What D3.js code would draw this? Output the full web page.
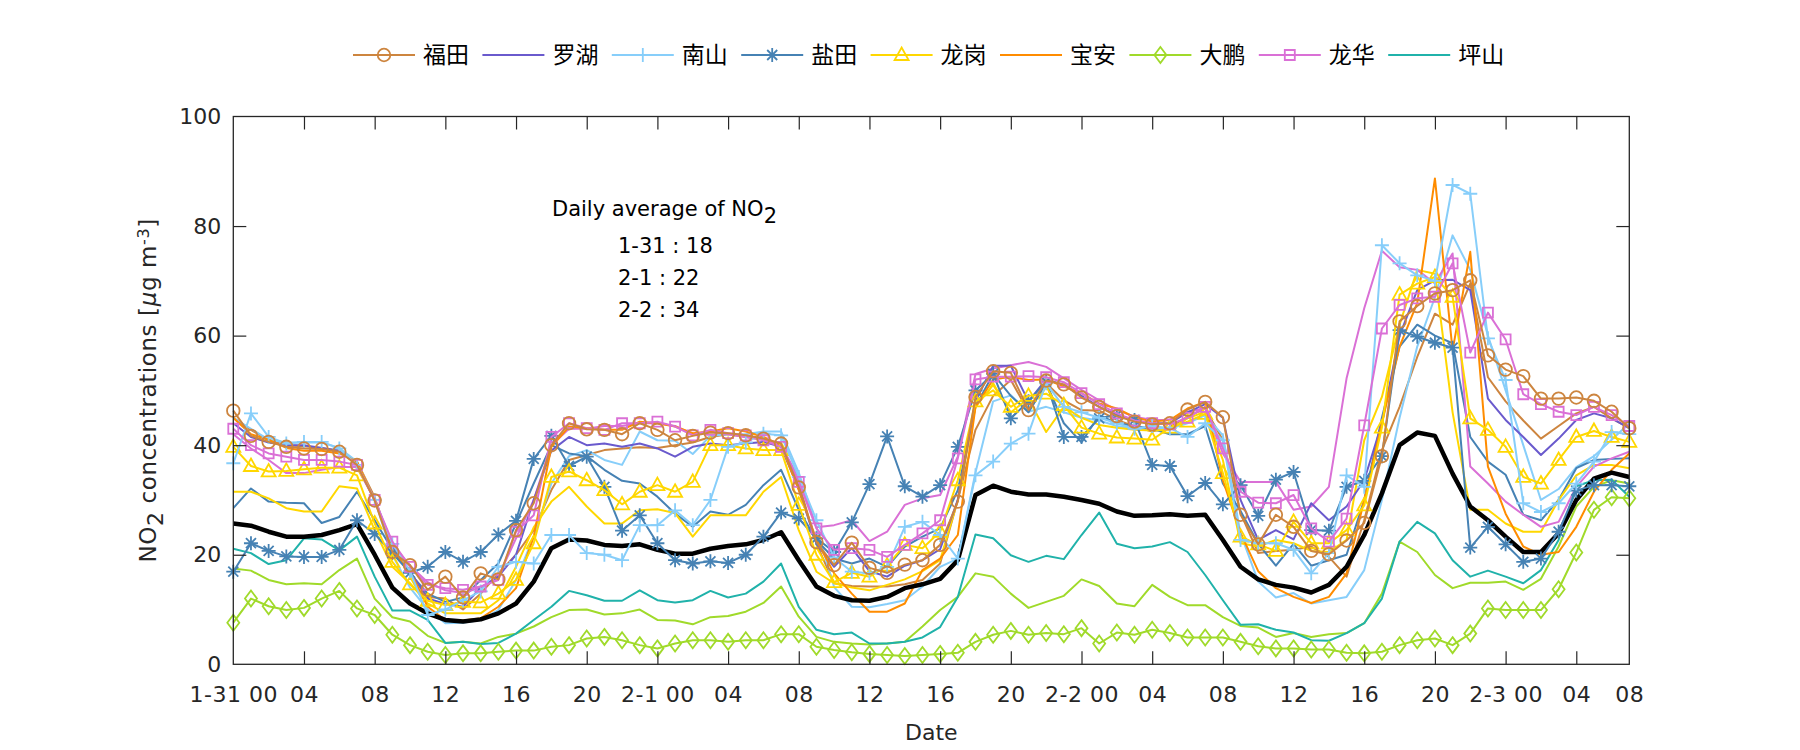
<!DOCTYPE html>
<html>
<head>
<meta charset="utf-8">
<script src="https://cdn.jsdelivr.net/npm/d3@7"></script>
<style>
  html, body { margin: 0; padding: 0; background: #ffffff; }
  svg { display: block; }
</style>
</head>
<body>
<svg id="chart" width="1800" height="750"></svg>
<script>
// ---------------- DATA (hourly, 1-31 00:00 ... 2-3 07:00) ----------------
const hourIndex = d3.range(0, 80);

const tickHours  = [0, 4, 8, 12, 16, 20, 24, 28, 32, 36, 40, 44, 48, 52, 56, 60, 64, 68, 72, 76, 79];
const tickLabels = ["1-31 00", "04", "08", "12", "16", "20", "2-1 00", "04", "08", "12", "16", "20",
                    "2-2 00", "04", "08", "12", "16", "20", "2-3 00", "04", "08"];
const yTicks = [0, 20, 40, 60, 80, 100];

const districts = ["福田", "罗湖", "南山", "盐田", "龙岗", "宝安", "大鹏", "龙华", "坪山"];

const futian = [46.3,41.7,40.6,39.7,39.4,39.3,38.8,36.4, 29.9,20.5,18.1,13.6,16.0,12.2,16.6,15.5,
  24.5,29.4,40.0,44.0,42.9,42.8,42.0,44.0, 42.8,40.9,41.7,42.3,42.2,41.8,41.2,40.3,
  32.3,22.3,18.1,22.2,17.6,16.7,18.2,19.0, 21.8,29.7,48.8,53.5,53.2,46.4,51.8,51.1,
  48.7,47.0,45.3,44.3,43.8,44.0,46.5,47.9, 45.1,27.3,21.9,27.3,25.1,20.7,20.1,22.6,
  25.8,38.0,62.6,65.4,67.7,68.3,70.1,56.4, 53.8,52.6,48.5,48.5,48.7,48.1,46.1,43.1];
const futian2 = [45.0,42.8,40.9,40.0,39.8,39.5,39.0,37.0, 30.5,21.0,16.5,12.3,12.0,10.0,12.9,16.6,
  20.0,24.5,31.8,37.3,38.2,39.1,39.4,39.6, 39.5,40.0,40.5,41.5,42.0,41.5,41.0,40.0,
  33.0,22.0,14.8,14.3,14.2,14.2,14.6,15.4, 18.4,30.0,42.8,49.0,51.9,46.1,51.3,48.2,
  46.4,46.3,44.6,43.4,42.5,43.3,45.2,46.7, 40.9,27.6,20.3,20.7,20.9,21.5,19.6,16.0,
  26.3,39.1,47.0,56.1,64.0,62.0,69.5,52.4, 48.0,44.5,41.2,43.5,45.8,47.0,44.9,43.1];
const luohu = [44.0,41.5,40.5,40.0,40.0,39.5,39.0,36.5, 30.0,21.5,17.0,12.0,11.0,10.5,14.0,16.0,
  20.0,30.0,39.0,41.5,40.0,40.3,39.7,40.3, 39.4,37.9,39.7,40.3,40.0,40.3,40.6,39.7,
  32.0,22.0,17.8,21.2,17.0,16.0,18.0,19.0, 21.0,30.0,48.0,54.5,54.5,48.0,52.0,51.0,
  49.0,47.0,45.5,44.5,44.0,44.0,46.0,47.5, 45.0,30.0,22.7,24.5,22.8,29.4,26.3,28.8,
  33.6,44.0,60.0,68.3,70.1,70.2,68.3,48.5, 44.6,41.5,38.2,41.2,44.6,45.8,44.9,43.1];
const nanshan = [36.7,45.8,41.5,40.3,40.6,40.6,39.4,36.4, 30.0,22.0,17.0,9.0,10.0,11.7,13.3,17.8,
  18.7,18.4,23.6,23.6,20.3,20.0,19.0,25.4, 25.4,28.1,25.4,30.0,39.7,40.5,42.1,41.8,
  34.2,26.3,19.5,16.9,16.6,17.8,25.1,26.0, 23.6,19.3,34.5,37.0,40.3,42.1,51.3,47.0,
  46.0,45.0,44.0,43.0,43.5,43.1,41.5,44.0, 40.9,22.7,22.1,22.1,20.9,16.6,20.3,34.5,
  32.4,76.5,73.2,71.0,70.0,87.5,85.9,59.5, 51.9,29.4,27.8,29.4,33.0,37.0,42.4,42.0];
const nanshan2 = [45.0,43.0,41.0,40.5,40.5,40.5,39.5,37.0, 30.0,20.0,14.0,10.0,7.5,7.6,8.1,9.9,
  15.4,23.3,33.0,38.0,39.1,37.3,36.4,42.5, 40.9,40.8,38.4,41.7,42.0,42.0,42.5,42.5,
  35.0,25.0,14.1,10.5,10.4,11.0,11.7,14.2, 17.8,19.3,35.0,48.0,49.1,46.1,47.0,46.0,
  45.0,44.5,43.5,43.0,43.0,43.0,44.0,45.5, 41.8,23.9,15.1,12.2,13.0,11.1,11.7,12.3,
  17.2,30.0,45.0,58.0,67.0,78.3,72.0,60.0, 50.0,40.0,30.0,32.0,36.0,38.0,41.0,44.0];
const yantian = [16.9,22.1,20.7,19.7,19.6,19.6,20.9,26.3, 23.8,20.3,16.7,17.8,20.5,18.7,20.5,23.7,
  26.2,37.5,41.7,36.2,37.9,32.4,24.4,27.2, 22.1,19.0,18.4,18.8,18.5,20.0,23.3,27.7,
  26.6,23.0,20.5,25.9,32.9,41.6,32.5,30.6, 32.7,39.7,50.0,53.0,44.9,48.0,51.6,41.5,
  41.5,44.9,45.5,44.6,36.4,36.2,30.7,33.1, 29.2,32.7,27.1,33.7,35.1,24.5,24.4,32.4,
  33.5,38.0,61.0,59.8,58.7,57.8,21.3,25.1, 21.9,18.7,19.3,24.2,31.7,32.7,32.7,32.5];
const yantian2 = [28.5,32.1,29.7,29.5,29.4,25.8,26.9,31.5, 26.3,20.9,16.6,12.9,11.4,12.2,15.4,18.4,
  25.7,33.0,40.0,38.5,38.0,35.5,33.5,33.0, 30.6,27.5,25.1,27.9,27.3,29.1,32.7,35.5,
  28.2,22.7,19.3,18.4,19.3,17.8,21.5,23.3, 24.8,31.8,47.0,53.0,49.0,46.0,51.3,44.0,
  40.5,45.5,44.0,43.5,43.0,42.0,42.0,43.5, 33.0,28.0,22.0,18.0,22.0,18.0,19.0,20.0,
  30.0,45.0,58.0,62.0,60.0,58.6,41.5,37.0, 34.6,27.3,26.3,30.0,35.8,37.3,37.5,37.6];
const longgang = [39.7,36.2,35.2,35.3,35.6,35.9,35.9,34.5, 25.7,18.7,14.6,11.6,10.8,11.4,11.3,12.9,
  15.4,22.1,34.2,35.2,33.6,31.8,29.2,31.5, 32.7,31.5,33.3,40.0,40.0,39.4,39.1,39.1,
  29.1,20.0,15.0,16.7,16.0,18.0,21.8,21.2, 24.2,33.6,48.0,50.0,47.0,49.0,49.4,47.3,
  43.2,42.1,41.4,41.2,41.0,43.2,44.3,45.7, 34.9,23.3,21.9,20.7,26.0,22.1,22.1,24.5,
  29.0,43.2,67.5,69.5,70.7,67.1,44.9,42.8, 39.7,34.2,33.0,37.3,41.5,42.6,41.5,40.6];
const longgang2 = [31.5,31.5,30.3,28.5,27.9,27.9,32.5,32.1, 24.5,17.8,14.8,11.1,9.3,9.3,9.3,11.7,
  17.8,25.0,29.7,32.4,28.8,25.7,25.7,28.1, 28.3,27.6,23.3,27.2,27.2,27.2,31.5,34.2,
  24.5,16.9,14.8,14.0,13.5,14.5,15.5,17.0, 19.0,30.0,47.0,51.0,46.0,48.5,42.4,47.0,
  45.0,43.7,43.2,42.8,42.7,42.8,44.9,46.1, 37.3,22.1,21.5,22.7,22.1,20.7,20.5,22.7,
  40.9,48.8,62.0,72.0,71.3,46.0,28.2,28.2, 25.7,24.2,24.2,30.0,34.5,36.4,36.4,35.8];
const baoan = [45.0,42.0,41.0,39.5,39.0,39.0,38.5,37.0, 30.0,21.0,17.0,10.5,8.1,8.0,8.4,10.5,
  13.9,23.3,39.7,43.4,43.1,42.8,42.8,44.3, 44.0,43.4,42.2,42.5,43.1,42.5,41.5,40.0,
  31.8,22.7,16.6,12.9,9.6,9.6,11.1,17.2, 19.3,23.6,47.0,52.0,52.5,51.9,52.0,50.7,
  49.5,47.6,46.7,45.1,44.3,44.6,46.7,47.9, 33.6,24.0,17.0,13.9,12.3,11.2,12.3,16.6,
  30.0,44.0,58.0,66.0,88.7,57.3,75.3,36.1, 27.5,21.5,20.0,20.5,25.1,31.5,35.5,38.5];
const dapeng = [7.6,12.0,10.6,9.9,10.3,12.0,13.4,10.2, 9.0,5.4,3.5,2.3,1.7,2.0,2.0,2.3,
  2.5,2.5,3.2,3.5,4.7,5.0,4.4,3.5, 2.9,3.8,4.4,4.4,4.1,4.4,4.4,5.5,
  5.5,3.2,2.6,2.2,1.9,1.7,1.5,1.7, 1.9,2.1,4.1,5.4,6.1,5.4,5.7,5.5,
  6.6,3.8,5.8,5.4,6.3,5.7,4.9,4.9, 4.9,4.1,3.3,2.9,2.9,2.7,2.7,2.1,
  2.0,2.3,3.5,4.4,4.7,3.5,5.6,10.2, 9.9,9.9,9.9,13.7,20.4,28.2,30.5,30.3];
const dapeng2 = [17.5,17.1,15.4,14.6,14.8,14.6,17.2,19.3, 12.0,8.6,7.8,5.2,3.9,4.1,3.8,5.0,
  5.6,6.9,8.6,9.9,10.0,9.1,9.3,10.0, 8.1,8.0,7.3,8.6,8.8,9.6,11.2,14.2,
  8.7,5.0,4.1,3.8,3.6,3.8,4.1,6.9, 9.9,12.3,16.6,16.0,12.9,10.3,11.4,12.5,
  15.5,14.3,11.1,10.6,14.5,12.3,10.8,10.8, 8.6,7.0,6.7,5.0,5.7,5.0,5.5,5.7,
  7.5,12.9,22.4,20.5,16.3,13.9,14.9,14.9, 15.1,13.6,15.6,21.5,28.8,32.4,33.6,33.0];
const longhua = [43.0,40.0,38.5,37.9,37.3,37.3,37.0,36.4, 30.0,22.4,17.8,14.5,13.9,13.6,14.2,15.4,
  24.2,27.2,41.5,44.0,43.1,42.8,44.0,44.0, 44.3,43.4,41.8,42.8,42.2,41.8,40.9,39.7,
  33.3,24.8,20.9,21.2,20.9,19.6,21.8,23.9, 26.3,37.6,52.0,52.5,52.5,52.6,52.4,51.5,
  49.5,47.5,45.8,44.5,44.0,43.8,45.0,47.0, 39.4,31.5,29.5,29.4,30.9,24.8,22.4,26.6,
  43.6,61.3,65.6,66.8,67.1,73.2,56.9,64.2, 59.3,49.3,47.5,46.1,45.5,47.0,45.5,43.5];
const longhua2 = [42.0,39.4,37.3,34.9,34.9,35.5,36.0,36.0, 30.0,22.0,18.0,15.0,13.5,13.0,14.0,16.0,
  23.0,30.0,40.0,43.0,43.0,43.5,43.5,44.0, 44.0,43.5,42.0,42.5,42.0,41.5,41.0,40.0,
  34.0,25.0,25.4,26.3,22.5,24.2,29.1,30.3, 30.9,37.9,53.0,54.0,54.6,55.2,54.3,52.2,
  50.1,48.2,46.4,45.2,44.6,44.6,46.1,46.7, 38.5,33.3,33.3,33.3,28.2,28.8,32.4,52.2,
  65.0,75.5,72.5,72.0,69.5,75.0,36.1,33.0, 29.7,27.3,25.1,26.0,32.4,36.1,37.6,38.8];
const pingshan = [21.1,20.3,18.3,19.0,23.0,22.8,20.8,23.3, 16.0,9.8,9.8,8.1,3.9,4.1,3.7,3.9,
  5.6,8.1,10.5,13.4,12.6,11.6,11.6,13.5, 11.7,11.3,11.7,13.4,12.2,12.9,15.1,18.4,
  10.5,6.3,5.5,5.8,3.8,3.8,4.1,4.9, 6.8,12.3,23.7,23.0,19.9,18.7,19.8,19.2,
  23.6,27.7,22.0,21.2,21.5,22.3,20.5,16.3, 11.7,7.2,7.3,6.3,5.8,4.4,4.3,5.7,
  7.5,12.0,22.4,26.0,23.9,19.0,16.0,17.1, 16.0,14.8,17.2,22.7,32.5,33.6,33.7,30.6];
const average = [25.7,25.3,24.2,23.3,23.3,23.6,24.5,25.6, 20.0,14.0,11.1,9.3,8.1,7.8,8.2,9.3,
  11.1,15.1,21.2,22.8,22.6,21.8,21.6,21.9, 20.9,20.2,20.2,21.1,21.6,21.9,22.7,24.1,
  19.0,14.2,12.5,11.7,11.6,12.3,13.9,14.6, 15.6,19.0,30.9,32.6,31.5,31.0,31.0,30.6,
  30.0,29.3,27.9,27.1,27.2,27.4,27.1,27.3, 22.7,17.8,15.5,14.5,14.0,13.1,14.5,17.8,
  23.6,31.2,40.0,42.3,41.7,34.8,28.8,26.3, 23.3,20.5,20.5,23.9,30.0,33.9,35.0,34.2];

const annotationLines = ["1-31 : 18", "2-1 : 22", "2-2 : 34"];

// ---------------- STYLE TABLE ----------------
const colors = {
  "福田": "#CD853F", "罗湖": "#6A5ACD", "南山": "#87CEFA", "盐田": "#4682B4", "龙岗": "#FFD700",
  "宝安": "#FF8C00", "大鹏": "#A0DA2A", "龙华": "#DA70D6", "坪山": "#20B2AA"
};
const markerOf = {
  "福田": "circle", "罗湖": null, "南山": "plus", "盐田": "asterisk", "龙岗": "triangle",
  "宝安": null, "大鹏": "diamond", "龙华": "square", "坪山": null
};

const backgroundLines = [
  {name: "福田", values: futian2}, {name: "南山", values: nanshan2}, {name: "盐田", values: yantian2},
  {name: "龙岗", values: longgang2}, {name: "大鹏", values: dapeng2}, {name: "龙华", values: longhua2},
  {name: "坪山", values: pingshan}, {name: "罗湖", values: luohu}, {name: "宝安", values: baoan}
];
const markedLines = [
  {name: "大鹏", values: dapeng}, {name: "盐田", values: yantian}, {name: "龙岗", values: longgang},
  {name: "南山", values: nanshan}, {name: "龙华", values: longhua}, {name: "福田", values: futian}
];

// ---------------- LAYOUT ----------------
const svg = d3.select("#chart");
const X0 = 233.3, X1 = 1629.3, Y0 = 664.3, Y1 = 116.5;
const x = d3.scaleLinear().domain([0, 79]).range([X0, X1]);
const y = d3.scaleLinear().domain([0, 100]).range([Y0, Y1]);
const axisColor = "#262626";
const fontMain = "'DejaVu Sans', 'Liberation Sans', sans-serif";
const fontCJK = "'Noto Sans CJK SC', 'Noto Sans CJK JP', sans-serif";

function markerPath(type) {
  switch (type) {
    case "circle": return "M6.3,0 A6.3,6.3 0 1,1 -6.3,0 A6.3,6.3 0 1,1 6.3,0 Z";
    case "plus": return "M-7,0 L7,0 M0,-7 L0,7";
    case "asterisk": return "M-7,0 L7,0 M0,-7 L0,7 M-5,-5 L5,5 M-5,5 L5,-5";
    case "triangle": return "M0,-7.5 L7,5 L-7,5 Z";
    case "diamond": return "M0,-8 L6,0 L0,8 L-6,0 Z";
    case "square": return "M-5,-5 L5,-5 L5,5 L-5,5 Z";
  }
  return "";
}

const plot = svg.append("g");
const clipId = "plotclip";
svg.append("defs").append("clipPath").attr("id", clipId)
  .append("rect").attr("x", X0).attr("y", Y1 - 20).attr("width", X1 - X0).attr("height", Y0 - Y1 + 20);

const line = d3.line().x((d, i) => x(hourIndex[i])).y(d => y(d));
const linesG = plot.append("g").attr("clip-path", `url(#${clipId})`);

backgroundLines.forEach(s => {
  linesG.append("path").datum(s.values)
    .attr("d", line).attr("fill", "none")
    .attr("stroke", colors[s.name]).attr("stroke-width", 2)
    .attr("stroke-linejoin", "round");
});

linesG.append("path").datum(average)
  .attr("d", line).attr("fill", "none")
  .attr("stroke", "#000").attr("stroke-width", 4.5).attr("stroke-linejoin", "round");

markedLines.forEach(s => {
  const g = plot.append("g");
  g.append("path").datum(s.values)
    .attr("d", line).attr("fill", "none")
    .attr("stroke", colors[s.name]).attr("stroke-width", 2)
    .attr("stroke-linejoin", "round");
  g.selectAll("path.mk").data(s.values).enter().append("path")
    .attr("class", "mk")
    .attr("d", markerPath(markerOf[s.name]))
    .attr("transform", (d, i) => `translate(${x(hourIndex[i])},${y(d)})`)
    .attr("fill", "none").attr("stroke", colors[s.name]).attr("stroke-width", 1.8);
});

// ---------------- AXES (box with inward ticks) ----------------
const axesG = svg.append("g");
axesG.append("rect").attr("x", X0).attr("y", Y1).attr("width", X1 - X0).attr("height", Y0 - Y1)
  .attr("fill", "none").attr("stroke", axisColor).attr("stroke-width", 1.3);

const tickLen = 13;
const xAxisB = d3.axisBottom(x).tickValues(tickHours).tickSize(-tickLen).tickPadding(22)
  .tickFormat((d, i) => tickLabels[i]);
const gxb = axesG.append("g").attr("transform", `translate(0,${Y0})`).call(xAxisB);
const xAxisT = d3.axisTop(x).tickValues(tickHours.filter(h => h < 79)).tickSize(-tickLen).tickFormat("");
const gxt = axesG.append("g").attr("transform", `translate(0,${Y1})`).call(xAxisT);
gxb.selectAll("line").filter(d => d === 79 || d === 0).remove();
gxt.selectAll("line").filter(d => d === 0).remove();

const yAxisL = d3.axisLeft(y).tickValues(yTicks).tickSize(-tickLen).tickPadding(12).tickFormat(d3.format("d"));
const gyl = axesG.append("g").attr("transform", `translate(${X0},0)`).call(yAxisL);
const yAxisR = d3.axisRight(y).tickValues(yTicks).tickSize(-tickLen).tickFormat("");
const gyr = axesG.append("g").attr("transform", `translate(${X1},0)`).call(yAxisR);
[gyl, gyr].forEach(g => g.selectAll("line").filter(d => d === 0 || d === 100).remove());

[gxb, gxt, gyl, gyr].forEach(g => {
  g.select(".domain").remove();
  g.selectAll("line").attr("stroke", axisColor).attr("stroke-width", 1.2);
  g.selectAll("text").attr("fill", axisColor).style("font-family", fontMain).style("font-size", "22px");
});
gxb.selectAll("text").attr("letter-spacing", "0.5px");

// axis titles
svg.append("text").attr("x", (X0 + X1) / 2).attr("y", 740)
  .attr("text-anchor", "middle").attr("fill", axisColor)
  .style("font-family", fontMain).style("font-size", "22px").text("Date");

const yl = svg.append("text")
  .attr("transform", `translate(156,${(Y0 + Y1) / 2}) rotate(-90)`)
  .attr("text-anchor", "middle").attr("fill", axisColor)
  .style("font-family", fontMain).style("font-size", "23px").attr("letter-spacing", "0.6px");
yl.append("tspan").text("NO");
yl.append("tspan").attr("baseline-shift", "-30%").style("font-size", "22px").text("2");
yl.append("tspan").text(" concentrations [");
yl.append("tspan").style("font-style", "italic").text("μ");
yl.append("tspan").text("g m");
yl.append("tspan").attr("baseline-shift", "45%").style("font-size", "16px").text("-3");
yl.append("tspan").text("]");

// annotation
const ann = svg.append("text").attr("x", 552).attr("y", 216).attr("fill", "#000")
  .style("font-family", fontMain).style("font-size", "21px");
ann.append("tspan").text("Daily average of NO");
ann.append("tspan").attr("baseline-shift", "-35%").text("2");
annotationLines.forEach((t, i) => {
  svg.append("text").attr("x", 618).attr("y", 253 + i * 32).attr("fill", "#000")
    .style("font-family", fontMain).style("font-size", "21px").text(t);
});

// ---------------- LEGEND ----------------
const legG = svg.append("g");
const legX0 = 353, legStep = 129.4, legY = 55, legLine = 62;
districts.forEach((name, i) => {
  const gx = legX0 + i * legStep;
  const g = legG.append("g").attr("transform", `translate(${gx},${legY})`);
  g.append("line").attr("x1", 0).attr("x2", legLine).attr("y1", 0).attr("y2", 0)
    .attr("stroke", colors[name]).attr("stroke-width", 2);
  if (markerOf[name]) {
    g.append("path").attr("d", markerPath(markerOf[name]))
      .attr("transform", `translate(${legLine / 2},0)`)
      .attr("fill", "none").attr("stroke", colors[name]).attr("stroke-width", 1.8);
  }
  g.append("text").attr("x", legLine + 8).attr("y", 0).attr("dy", "0.36em")
    .attr("fill", "#000").style("font-family", fontCJK).style("font-size", "23px").text(name);
});
</script>
</body>
</html>
